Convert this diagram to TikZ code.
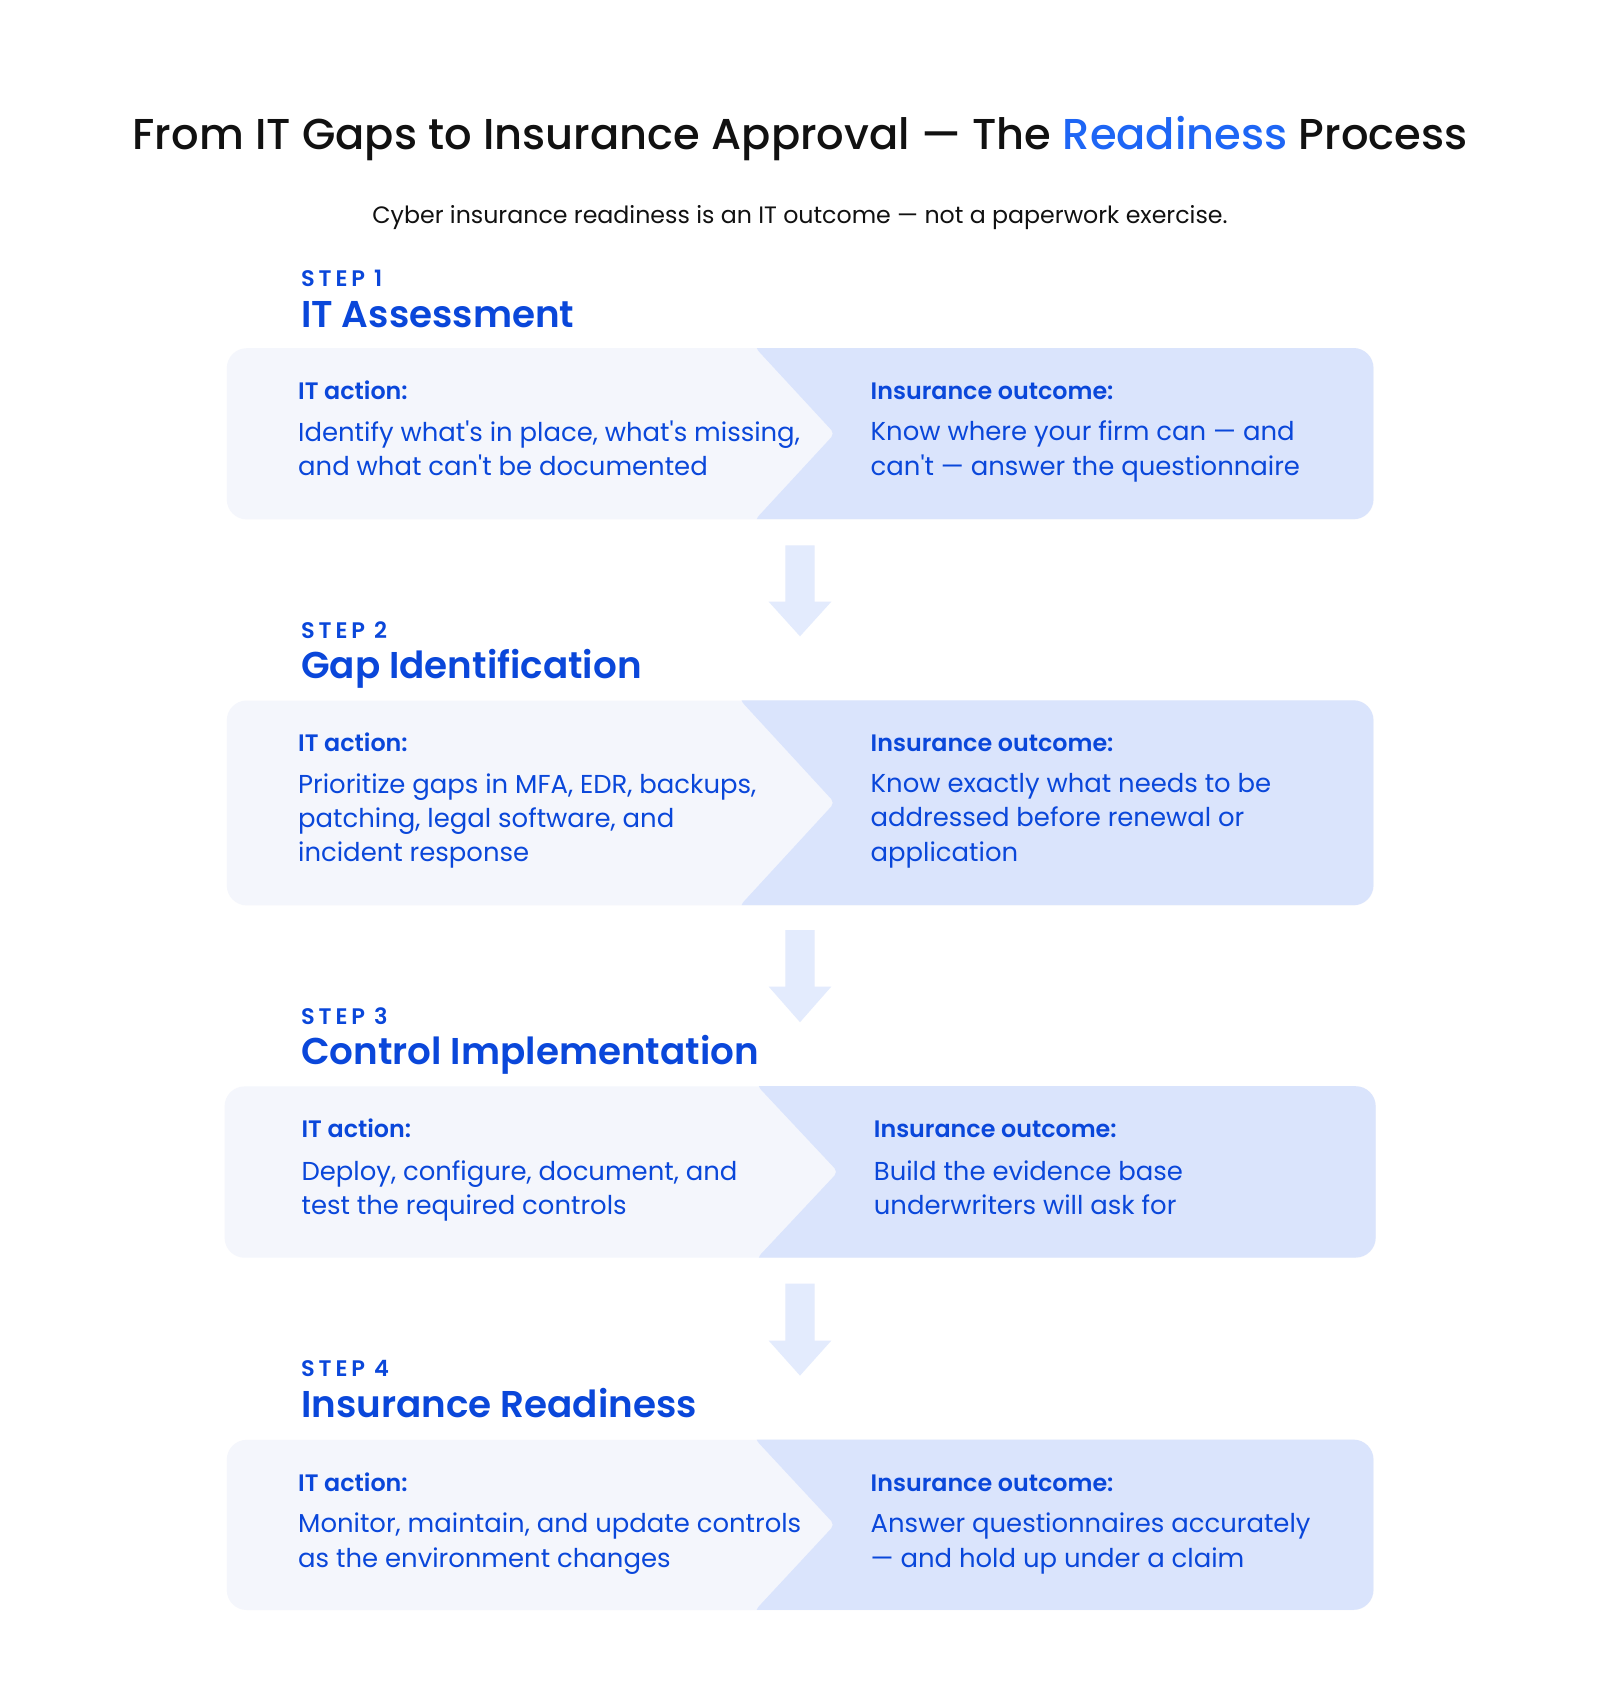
\documentclass[tikz,border=0pt]{standalone}
\usepackage{fontspec}
\setmainfont{Poppins}[Ligatures=TeXOff]
\newfontfamily\pmed{Poppins Medium}[Ligatures=TeXOff]
\newfontfamily\psemi{Poppins SemiBold}[Ligatures=TeXOff]
\definecolor{txtblue}{HTML}{0A47DA}
\definecolor{hiblue}{HTML}{1E66F5}
\definecolor{leftc}{HTML}{F4F6FC}
\definecolor{rightc}{HTML}{DAE4FC}
\definecolor{arrowc}{HTML}{E3EBFD}
\definecolor{titlec}{HTML}{111111}
\tikzset{
  txt/.style={inner sep=0pt, text=txtblue},
  steplbl/.style={txt, anchor=mid west, font=\psemi\fontsize{22.5}{26}\selectfont\addfontfeatures{LetterSpace=17}},
  steptitle/.style={txt, anchor=mid west, font=\psemi\fontsize{37.3}{44}\selectfont},
  headlbl/.style={txt, anchor=mid west, font=\psemi\fontsize{23.8}{28}\selectfont},
  bodytxt/.style={txt, anchor=north west, align=left, font=\fontsize{25.9}{34.3}\selectfont},
  flowarrow/.style={fill=arrowc, draw=none}
}
% #1 left x, #2 right x, #3 top y, #4 bottom y, #5 chevron top x, #6 chevron point x, #7 name
\newcommand{\drawstepbox}[7]{%
  \pgfmathsetmacro{\midy}{(#3+#4)/2}
  \node[fill=leftc, rounded corners=20pt, inner sep=0pt, minimum width={(#2-#1)*1pt}, minimum height={(#4-#3)*1pt}, anchor=north west] (#7) at (#1,#3) {};
  \begin{scope}
    \clip[rounded corners=20pt] (#1,#3) rectangle (#2,#4);
    \fill[rightc, rounded corners=5pt] (#5,#3-40) -- (#5,#3) -- (#6,\midy) -- (#5,#4) -- (#5,#4+40) -- (#2+40,#4+40) -- (#2+40,#3-40) -- cycle;
  \end{scope}
}
% #1 x center, #2 top y, #3 shaft end y, #4 tip y, #5 name
\newcommand{\drawflowarrow}[5]{%
  \coordinate (#5) at (#1,#2);
  \fill[flowarrow] ([xshift=-14.6pt]#5) -- ([xshift=14.6pt]#5) -- (#1+14.6,#3) -- (#1+31.4,#3) -- (#1,#4) -- (#1-31.4,#3) -- (#1-14.6,#3) -- cycle;
}
\begin{document}
\begin{tikzpicture}[x=1pt,y=-1pt]
\useasboundingbox[fill=white] (0,0) rectangle (1600,1700);

\node[inner sep=0pt, anchor=mid, text=titlec, font=\pmed\fontsize{43.2}{52}\selectfont] (title) at (800,147)
  {From IT Gaps to Insurance Approval — The {\color{hiblue}Readiness} Process};
\node[inner sep=0pt, anchor=mid, text=titlec, font=\fontsize{23.7}{28}\selectfont] (subtitle) at (800,221)
  {Cyber insurance readiness is an IT outcome — not a paperwork exercise.};

% Step 1
\node[steplbl] (s1lbl) at (301,283.5) {STEP 1};
\node[steptitle] (s1title) at (301,325) {IT Assessment};
\drawstepbox{226.6}{1373.4}{348}{519.2}{755.6}{834.7}{box1}
\node[headlbl] (s1ith) at (298,396.7) {IT action:};
\node[bodytxt] (s1itb) at (298,420.8) {Identify what's in place, what's missing,\\and what can't be documented};
\node[headlbl] (s1inh) at (870.5,396.7) {Insurance outcome:};
\node[bodytxt] (s1inb) at (870.5,420.8) {Know where your firm can — and\\can't — answer the questionnaire};

\drawflowarrow{800}{545.3}{601.6}{636.3}{arr1}

% Step 2
\node[steplbl] (s2lbl) at (301,635.5) {STEP 2};
\node[steptitle] (s2title) at (301,676) {Gap Identification};
\drawstepbox{226.6}{1373.4}{700.3}{905.2}{740.4}{834.7}{box2}
\node[headlbl] (s2ith) at (298,749) {IT action:};
\node[bodytxt] (s2itb) at (298,773.3) {Prioritize gaps in MFA, EDR, backups,\\patching, legal software, and\\incident response};
\node[headlbl] (s2inh) at (870.5,749) {Insurance outcome:};
\node[bodytxt] (s2inb) at (870.5,773.3) {Know exactly what needs to be\\addressed before renewal or\\application};

\drawflowarrow{800}{930.1}{986.5}{1022.2}{arr2}

% Step 3
\node[steplbl] (s3lbl) at (301,1021.5) {STEP 3};
\node[steptitle] (s3title) at (301,1062) {Control Implementation};
\drawstepbox{224.4}{1375.6}{1086.2}{1257.5}{757.7}{838}{box3}
\node[headlbl] (s3ith) at (301.4,1135) {IT action:};
\node[bodytxt] (s3itb) at (301.4,1160.3) {Deploy, configure, document, and\\test the required controls};
\node[headlbl] (s3inh) at (873.7,1135) {Insurance outcome:};
\node[bodytxt] (s3inb) at (873.7,1160.3) {Build the evidence base\\underwriters will ask for};

\drawflowarrow{800}{1283.5}{1340.5}{1375.6}{arr3}

% Step 4
\node[steplbl] (s4lbl) at (301,1373.5) {STEP 4};
\node[steptitle] (s4title) at (301,1415) {Insurance Readiness};
\drawstepbox{226.6}{1373.4}{1439.6}{1609.8}{755.6}{834.7}{box4}
\node[headlbl] (s4ith) at (298,1488.5) {IT action:};
\node[bodytxt] (s4itb) at (298,1512.8) {Monitor, maintain, and update controls\\as the environment changes};
\node[headlbl] (s4inh) at (870.5,1488.5) {Insurance outcome:};
\node[bodytxt] (s4inb) at (870.5,1512.8) {Answer questionnaires accurately\\— and hold up under a claim};
\end{tikzpicture}
\end{document}
